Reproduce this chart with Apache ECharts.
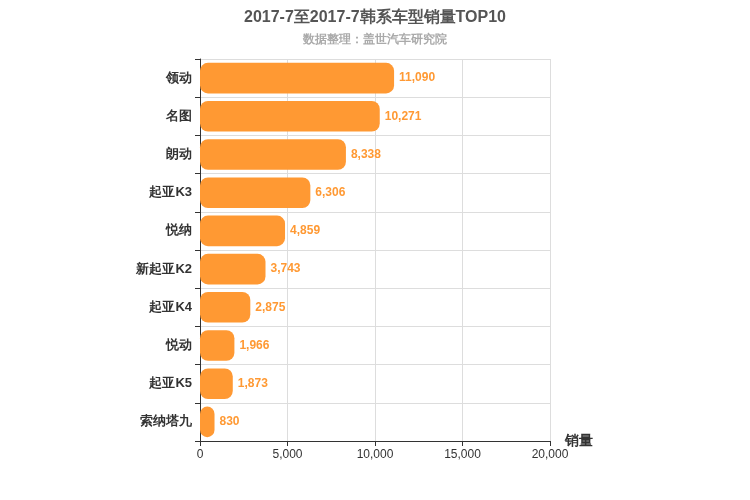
<!DOCTYPE html>
<html><head><meta charset="utf-8">
<script src="https://cdn.jsdelivr.net/npm/echarts@6/dist/echarts.min.js"></script>
<style>html,body{margin:0;padding:0}#c{width:750px;height:500px}</style>
</head><body><div id="c"></div>
<script>
const categories = ['领动','名图','朗动','起亚K3','悦纳','新起亚K2','起亚K4','悦动','起亚K5','索纳塔九'];
const sales = [11090,10271,8338,6306,4859,3743,2875,1966,1873,830];
const xTicks = {min:0,max:20000,interval:5000};
const chart = echarts.init(document.getElementById('c'));
chart.setOption({
  title:{text:'2017-7至2017-7韩系车型销量TOP10',subtext:'数据整理：盖世汽车研究院',left:'center',top:5,
    textStyle:{fontSize:16,fontWeight:'bold',color:'#555'},subtextStyle:{fontSize:12,fontWeight:'bold',color:'#aaa'},itemGap:8},
  grid:{left:200,right:200,top:59,bottom:59},
  xAxis:{type:'value',min:xTicks.min,max:xTicks.max,interval:xTicks.interval,name:'销量',nameGap:15,
    nameTextStyle:{fontSize:14,fontWeight:'bold',color:'#333',verticalAlign:'middle',padding:[0,0,0,0]},
    axisLine:{show:true,lineStyle:{color:'#333'}},axisTick:{show:true},axisLabel:{color:'#333'},
    splitLine:{lineStyle:{color:'#ddd'}}},
  yAxis:{type:'category',inverse:true,data:categories,
    axisLine:{lineStyle:{color:'#333'}},axisTick:{show:true},
    axisLabel:{fontSize:13,fontWeight:'bold',color:'#333'},
    splitLine:{show:true,lineStyle:{color:'#ddd'}}},
  series:[{type:'bar',data:sales,barWidth:'80%',
    itemStyle:{color:'#ff9933',borderRadius:8},
    label:{show:true,position:'right',color:'#ff9933',fontSize:12,fontWeight:'bold',
      formatter:p=>p.value.toLocaleString('en-US')}}]
});
</script></body></html>
